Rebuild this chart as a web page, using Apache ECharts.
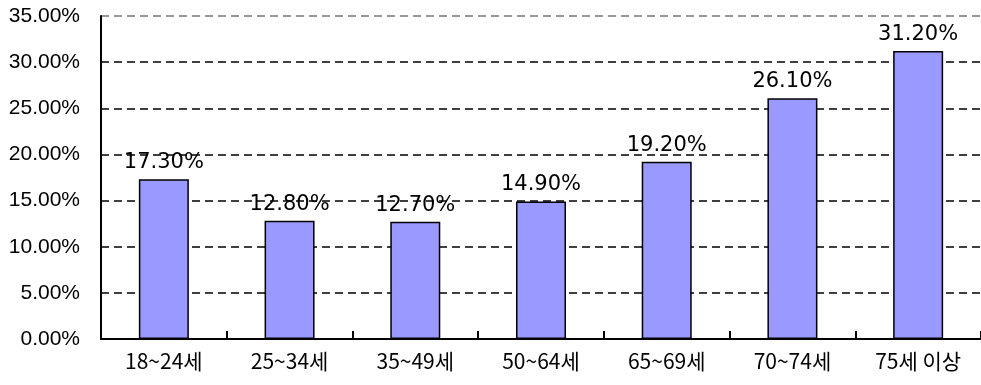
<!DOCTYPE html>
<html>
<head>
<meta charset="utf-8">
<script src="https://cdn.jsdelivr.net/npm/echarts@6/dist/echarts.min.js"></script>
<style>
  html, body { margin: 0; padding: 0; background: #fff; }
  #chart { width: 981px; height: 385px; }
</style>
</head>
<body>
<div id="chart"></div>
<script>
// age groups and share (%)
var categories = ['18~24세', '25~34세', '35~49세', '50~64세', '65~69세', '70~74세', '75세 이상'];
var values = [17.3, 12.8, 12.7, 14.9, 19.2, 26.1, 31.2];
var yTicks = [0, 5, 10, 15, 20, 25, 30, 35];

var chart = echarts.init(document.getElementById('chart'));
var option = {
    animation: false,
    grid: {
        left: 101,
        top: 16,
        width: 887,
        height: 323
    },
    xAxis: {
        type: 'category',
        data: categories,
        axisLine: {
            lineStyle: { color: '#000', width: 2 }
        },
        axisTick: {
            show: true,
            inside: true,
            length: 8,
            lineStyle: { color: '#000', width: 2 }
        },
        axisLabel: {
            color: '#000',
            fontSize: 21,
            fontFamily: 'Noto Sans CJK KR, sans-serif',
            margin: 12
        }
    },
    yAxis: {
        type: 'value',
        min: yTicks[0],
        max: yTicks[yTicks.length - 1],
        interval: 5,
        axisLine: {
            show: true,
            lineStyle: { color: '#000', width: 2 }
        },
        axisTick: { show: false },
        axisLabel: {
            color: '#000',
            fontSize: 21,
            fontFamily: 'Liberation Sans, sans-serif',
            margin: 21,
            formatter: function (v) { return v.toFixed(2) + '%'; }
        },
        splitLine: {
            lineStyle: {
                color: ['#000', '#000', '#000', '#000', '#000', '#000', '#000', '#777'],
                width: 1.5,
                type: [8, 5]
            }
        }
    },
    series: [
        {
            type: 'bar',
            data: values,
            barWidth: 50,
            itemStyle: {
                color: '#9999FF',
                borderColor: '#000',
                borderWidth: 1.5
            },
            label: {
                show: true,
                position: 'top',
                distance: 6,
                color: '#000',
                fontSize: 21,
                fontFamily: 'DejaVu Sans, sans-serif',
                formatter: function (p) { return p.value.toFixed(2) + '%'; }
            }
        }
    ]
};
chart.setOption(option);
window.addEventListener('resize', function () {
    chart.resize();
});
</script>
</body>
</html>
